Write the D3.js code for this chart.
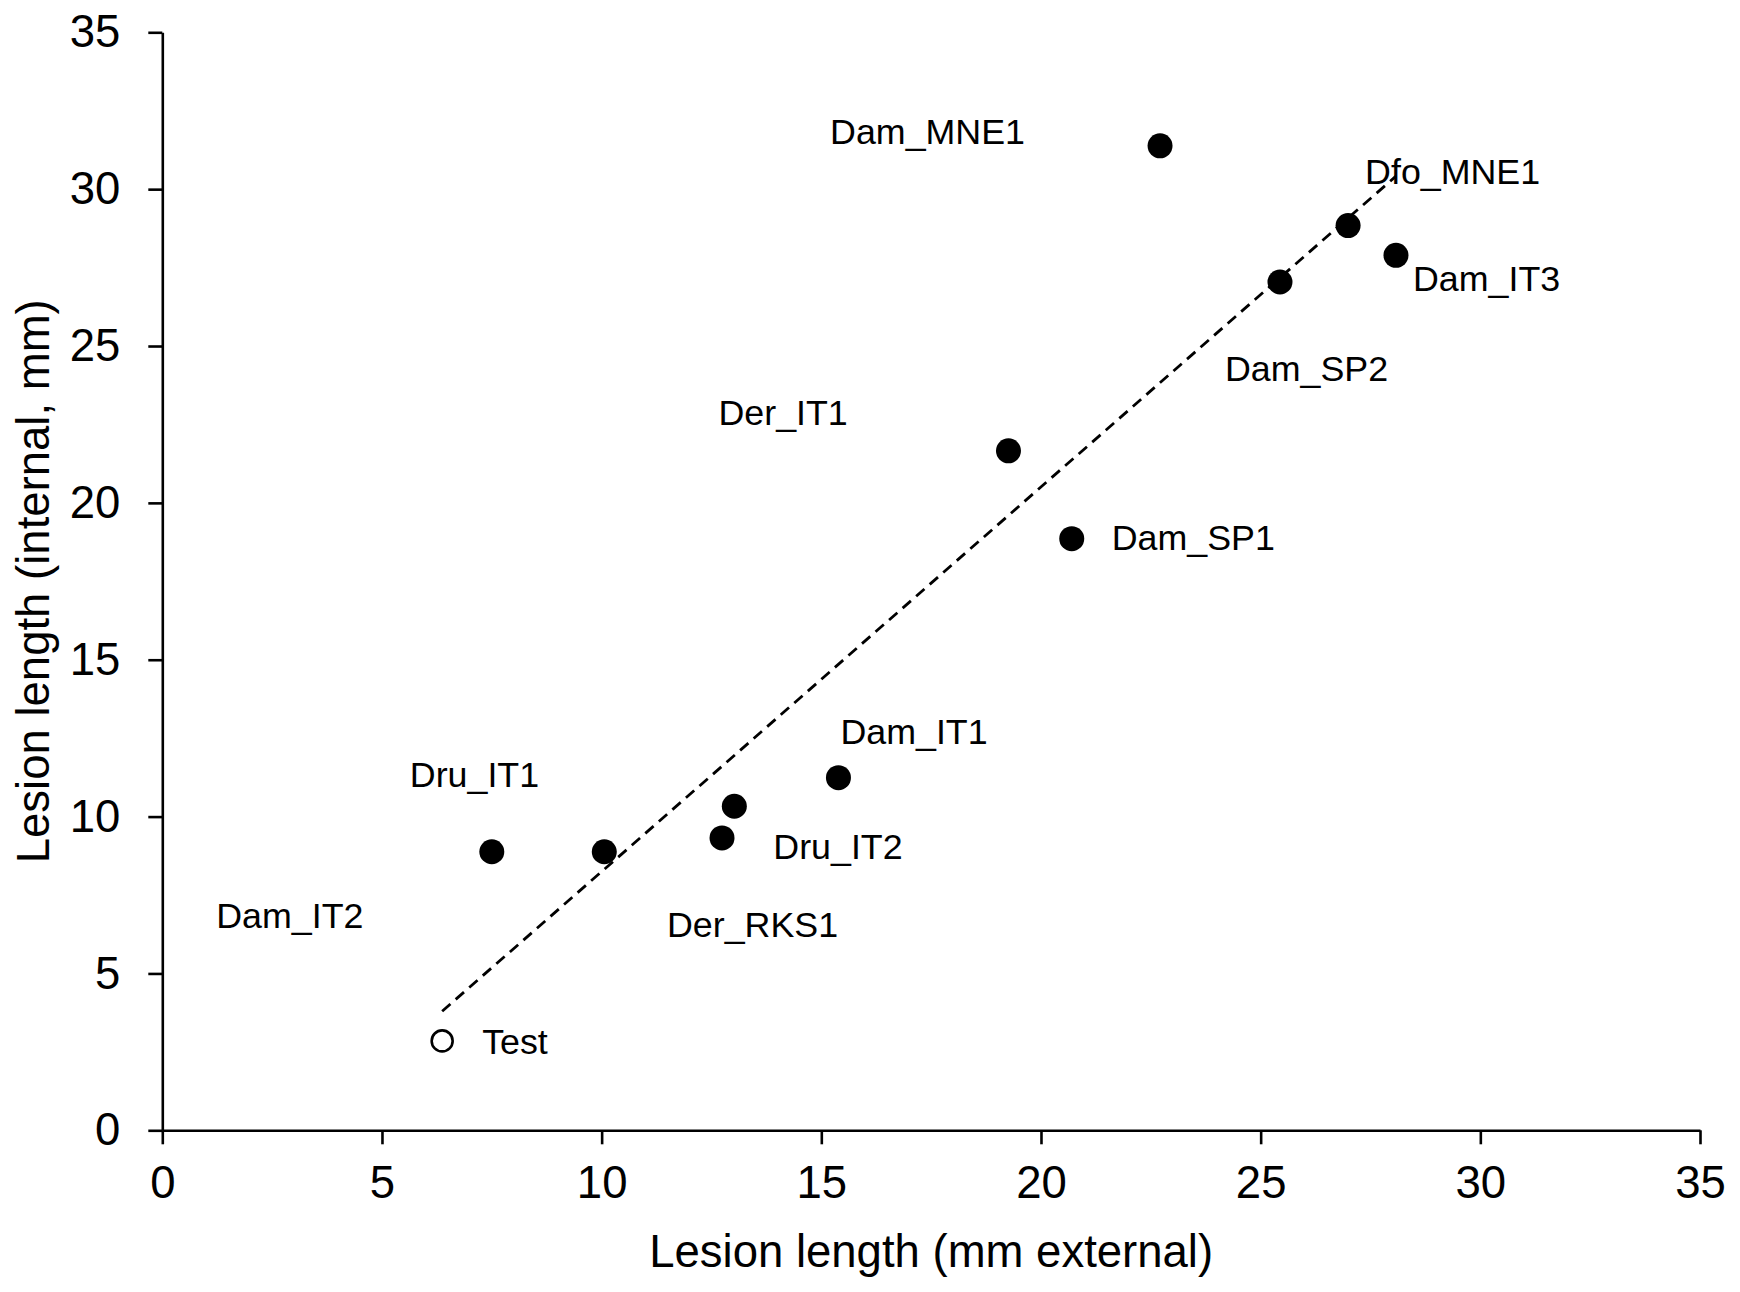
<!DOCTYPE html>
<html>
<head>
<meta charset="utf-8">
<script src="https://cdn.jsdelivr.net/npm/d3@7"></script>
<style>
  body { margin: 0; background: #ffffff; }
  svg text { font-family: "Liberation Sans", Arial, Helvetica, sans-serif; fill: #000; }
</style>
</head>
<body>
<svg id="chart" width="1740" height="1292"></svg>
<script>
// ---------------- DATA ----------------
const sampleNames = ["Dam_MNE1", "Dfo_MNE1", "Dam_IT3", "Dam_SP2", "Der_IT1", "Dam_SP1",
                     "Dam_IT1", "Dru_IT2", "Der_RKS1", "Dru_IT1", "Dam_IT2", "Test"];
const externalLength = [22.71, 26.99, 28.08, 25.44, 19.26, 20.70, 15.39, 13.02, 12.74, 7.50, 10.06, 6.37];
const internalLength = [31.38, 28.84, 27.89, 27.04, 21.66, 18.86, 11.24, 10.33, 9.32, 8.88, 8.88, 2.85];
const sampleKind = ["field", "field", "field", "field", "field", "field",
                    "field", "field", "field", "field", "field", "test"];
const xTicks = [0, 5, 10, 15, 20, 25, 30, 35];
const yTicks = [0, 5, 10, 15, 20, 25, 30, 35];
const xTitle = "Lesion length (mm external)";
const yTitle = "Lesion length (internal, mm)";

// ---------------- LAYOUT (label placement, px from point) ----------------
const labelOffsets = [[-330, -2], [17, -42], [17, 36], [-55, 99], [-290, -26], [40, 11],
                      [2, -34], [39, 53], [-55, 99], [-82, -65], [-388, 76], [40, 13]];

// ---------------- CHART ----------------
const svg = d3.select("#chart");
const x = d3.scaleLinear().domain([0, 35]).range([162.3, 1700]);
const y = d3.scaleLinear().domain([0, 35]).range([1130.3, 32.3]);

const fontTick = 45.5, fontLabel = 35.8;

const xAxis = svg.append("g")
  .attr("transform", `translate(0,${y(0)})`)
  .call(d3.axisBottom(x).tickValues(xTicks).tickSize(14).tickSizeOuter(0).tickPadding(21).tickFormat(d3.format("d")));
const yAxis = svg.append("g")
  .attr("transform", `translate(${x(0)},0)`)
  .call(d3.axisLeft(y).tickValues(yTicks).tickSize(14).tickSizeOuter(0).tickPadding(28).tickFormat(d3.format("d")));

[xAxis, yAxis].forEach(g => {
  g.attr("font-family", null).attr("font-size", null);
  g.selectAll("path.domain").attr("stroke", "#000").attr("stroke-width", 2.6);
  g.selectAll(".tick line").attr("stroke", "#000").attr("stroke-width", 2.6);
  g.selectAll(".tick text").style("font-size", fontTick + "px").attr("fill", "#000");
});

// Axis titles
svg.append("text")
  .attr("x", (x(0) + x(35)) / 2)
  .attr("y", 1267)
  .attr("text-anchor", "middle")
  .style("font-size", "45.5px")
  .text(xTitle);
svg.append("text")
  .attr("transform", `translate(49,${(y(0) + y(35)) / 2}) rotate(-90)`)
  .attr("text-anchor", "middle")
  .style("font-size", "45.5px")
  .text(yTitle);

// Data rows
const rows = sampleNames.map((n, i) => ({
  name: n, ext: externalLength[i], int: internalLength[i], kind: sampleKind[i], off: labelOffsets[i]
}));

// Linear trend line (least squares fit over all points)
const mx = d3.mean(rows, d => d.ext), my = d3.mean(rows, d => d.int);
const sxy = d3.sum(rows, d => (d.ext - mx) * (d.int - my));
const sxx = d3.sum(rows, d => (d.ext - mx) ** 2);
const slope = sxy / sxx, intercept = my - slope * mx;
const [xmin, xmax] = d3.extent(rows, d => d.ext);
const trend = [xmin, xmax].map(v => ({ ext: v, int: intercept + slope * v }));

svg.append("path")
  .datum(trend)
  .attr("d", d3.line().x(d => x(d.ext)).y(d => y(d.int)))
  .attr("fill", "none")
  .attr("stroke", "#000")
  .attr("stroke-width", 2.8)
  .attr("stroke-dasharray", "11,7");

// Points
svg.append("g").selectAll("circle")
  .data(rows)
  .join("circle")
  .attr("cx", d => x(d.ext))
  .attr("cy", d => y(d.int))
  .attr("r", d => d.kind === "test" ? 10.5 : 12.5)
  .attr("fill", d => d.kind === "test" ? "#fff" : "#000")
  .attr("stroke", "#000")
  .attr("stroke-width", d => d.kind === "test" ? 2.6 : 0);

// Labels
svg.append("g").selectAll("text")
  .data(rows)
  .join("text")
  .attr("x", d => x(d.ext) + d.off[0])
  .attr("y", d => y(d.int) + d.off[1])
  .style("font-size", fontLabel + "px")
  .text(d => d.name);
</script>
</body>
</html>
